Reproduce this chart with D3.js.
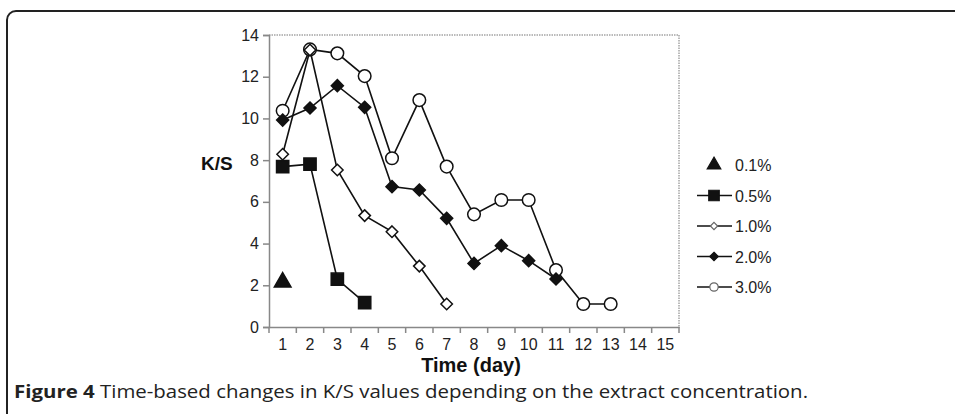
<!DOCTYPE html>
<html><head><meta charset="utf-8">
<script src="https://cdn.jsdelivr.net/npm/d3@7"></script>
<style>body{margin:0;background:#fff}svg{display:block}</style>
</head><body>
<svg id="c" width="955" height="414"></svg>
<script>
const days = [1,2,3,4,5,6,7,8,9,10,11,12,13,14,15];
const yTicks = [0,2,4,6,8,10,12,14];
const seriesNames = ["0.1%","0.5%","1.0%","2.0%","3.0%"];
const s01 = [[1,2.15]];
const s05 = [[1,7.69],[2,7.81],[3,2.29],[4,1.17]];
const s10 = [[1,8.28],[2,13.28],[3,7.53],[4,5.34],[5,4.57],[6,2.92],[7,1.10]];
const s20 = [[1,9.92],[2,10.5],[3,11.57],[4,10.53],[5,6.73],[6,6.57],[7,5.21],[8,3.05],[9,3.90],[10,3.18],[11,2.30]];
const s30 = [[1,10.37],[2,13.31],[3,13.12],[4,12.03],[5,8.09],[6,10.88],[7,7.69],[8,5.40],[9,6.09],[10,6.09],[11,2.73],[12,1.10],[13,1.10]];
const captionBold = "Figure 4";
const captionText = " Time-based changes in K/S values depending on the extract concentration.";

const svg = d3.select("#c");
// frame
svg.append("rect").attr("x",7).attr("y",11).attr("width",1000).attr("height",420)
  .attr("rx",9).attr("fill","none").attr("stroke","#222").attr("stroke-width",2);

const L=269, R=679, T=35, B=327;
const x = d3.scaleBand().domain(days).range([L,R]);
const y = d3.scaleLinear().domain([0,14]).range([B,T]);
const font = "'Liberation Sans', Arial, sans-serif";

// dotted plot border
svg.append("path").attr("d",`M${L},${T}H${R}V${B}`).attr("fill","none")
  .attr("stroke","#777").attr("stroke-width",1).attr("stroke-dasharray","1.5,1");

// y axis
const ya = svg.append("g").attr("transform",`translate(${L},0)`)
  .call(d3.axisLeft(y).tickValues(yTicks).tickSize(6).tickPadding(4));
ya.select(".domain").attr("stroke","#888").attr("stroke-width",1.5);
ya.selectAll(".tick line").attr("stroke","#888").attr("stroke-width",1.5);
ya.selectAll("text").attr("font-family",font).attr("font-size",16).attr("fill","#222");

// x axis
const xa = svg.append("g").attr("transform",`translate(0,${B})`)
  .call(d3.axisBottom(x).tickSize(0).tickPadding(12));
xa.select(".domain").attr("stroke","#888").attr("stroke-width",1.5);
xa.selectAll("text").attr("font-family",font).attr("font-size",16).attr("fill","#222");
const tickPos = d3.range(days.length+1).map(i=>L+i*x.step());
svg.append("g").selectAll("line").data(tickPos).join("line")
  .attr("x1",d=>d).attr("x2",d=>d).attr("y1",B).attr("y2",B+6)
  .attr("stroke","#888").attr("stroke-width",1.5);

svg.append("text").attr("x",471).attr("y",372).attr("text-anchor","middle")
  .attr("font-family",font).attr("font-weight","bold").attr("font-size",20).attr("fill","#111").text("Time (day)");
svg.append("text").attr("x",201).attr("y",170)
  .attr("font-family",font).attr("font-weight","bold").attr("font-size",19).attr("fill","#111").text("K/S");

const cx = d=>x(d[0])+x.bandwidth()/2, cy = d=>y(d[1]);
const line = d3.line().x(cx).y(cy);

function drawSeries(data, symType, size, fill, lineOn){
  const g = svg.append("g");
  if(lineOn) g.append("path").attr("d",line(data)).attr("fill","none").attr("stroke","#111").attr("stroke-width",1.6);
  g.selectAll("path.m").data(data).join("path").attr("class","m")
    .attr("transform",d=>`translate(${cx(d)},${cy(d)})`)
    .attr("d",d3.symbol().type(symType).size(size))
    .attr("fill",fill).attr("stroke","#111").attr("stroke-width",1.5);
}
const diamond = {draw(ctx,size){const r=Math.sqrt(size)/2*1.15;ctx.moveTo(0,-r);ctx.lineTo(r,0);ctx.lineTo(0,r);ctx.lineTo(-r,0);ctx.closePath();}};
drawSeries(s30, d3.symbolCircle, 125, "#fff", true);
drawSeries(s20, diamond, 110, "#111", true);
drawSeries(s10, diamond, 100, "#fff", true);
drawSeries(s05, d3.symbolSquare, 150, "#111", true);
drawSeries(s01, d3.symbolTriangle, 120, "#111", false);

// legend
const legY = d3.scaleLinear().domain([0,4]).range([165,287]);
const legTypes = [
  {t:d3.symbolTriangle,s:80,f:"#111",st:"#111",line:false},
  {t:d3.symbolSquare,s:110,f:"#111",st:"#111",line:true},
  {t:diamond,s:40,f:"#fff",st:"#666",line:true},
  {t:diamond,s:55,f:"#111",st:"#111",line:true},
  {t:d3.symbolCircle,s:55,f:"#fff",st:"#666",line:true}];
const lg = svg.append("g").selectAll("g").data(seriesNames).join("g")
  .attr("transform",(d,i)=>`translate(0,${legY(i)})`);
lg.each(function(d,i){
  const g=d3.select(this), o=legTypes[i];
  if(o.line) g.append("line").attr("x1",697).attr("x2",732).attr("y1",0).attr("y2",0).attr("stroke","#111").attr("stroke-width",1.5);
  g.append("path").attr("transform","translate(714,0)").attr("d",d3.symbol().type(o.t).size(o.s))
    .attr("fill",o.f).attr("stroke",o.st).attr("stroke-width",1.2);
  g.append("text").attr("x",735).attr("y",6).attr("font-family",font).attr("font-size",16).attr("fill","#222").text(d);
});

// caption
const cap = svg.append("text").attr("x",14).attr("y",398).attr("font-family","'Open Sans', 'Noto Sans', sans-serif")
  .attr("font-size",18).attr("fill","#222").attr("textLength",794).attr("lengthAdjust","spacingAndGlyphs");
cap.append("tspan").attr("font-weight","bold").text(captionBold);
cap.append("tspan").text(captionText);
</script>
</body></html>
